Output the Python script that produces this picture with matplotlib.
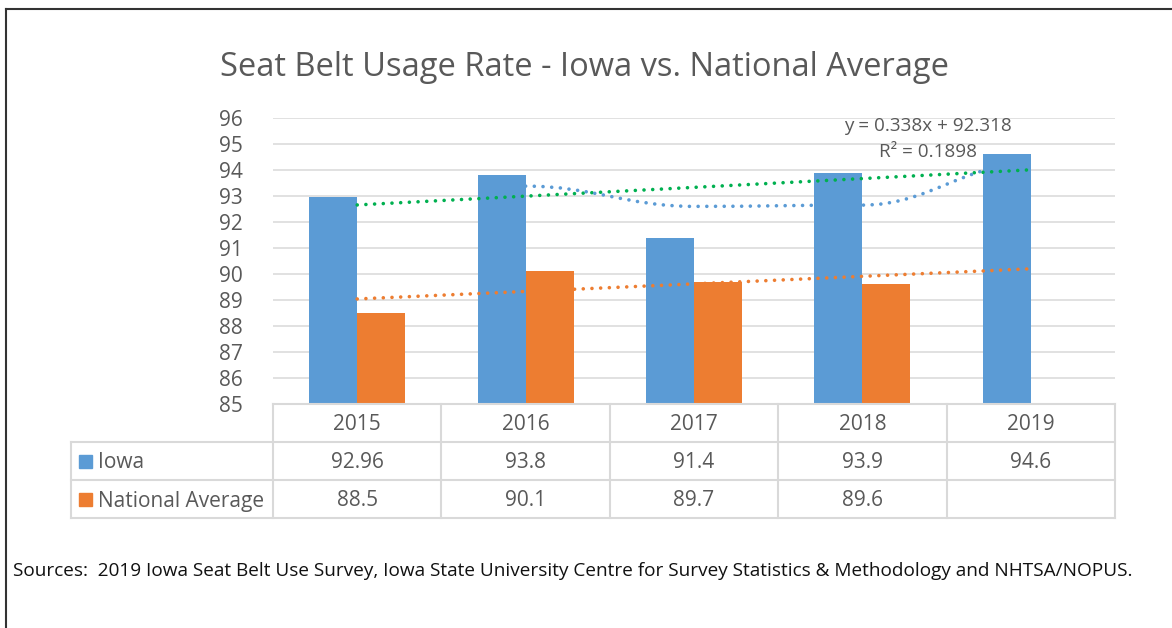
import matplotlib
matplotlib.use('agg')
import matplotlib.pyplot as plt
from matplotlib import transforms
from matplotlib.lines import Line2D
from matplotlib.patches import Rectangle, PathPatch
from matplotlib.path import Path
import numpy as np

# data
years = ['2015', '2016', '2017', '2018', '2019']
iowa = [92.96, 93.8, 91.4, 93.9, 94.6]
national = [88.5, 90.1, 89.7, 89.6, np.nan]
iowa_label = 'Iowa'
national_label = 'National Average'
yticks = list(range(85, 97))
title = 'Seat Belt Usage Rate - Iowa vs. National Average'
source = ('Sources:  2019 Iowa Seat Belt Use Survey, Iowa State University Centre for '
          'Survey Statistics & Methodology and NHTSA/NOPUS.')

blue = '#5B9BD5'
orange = '#ED7D31'
green = '#00B050'
txt = '#595959'
grid = '#D9D9D9'

plt.rcParams['font.family'] = ['Open Sans', 'DejaVu Sans']

W, H = 1172, 628
fig = plt.figure(figsize=(W / 100, H / 100), dpi=100)

def fx(px):
    return px / W

def fy(py):
    return 1 - py / H

ax = fig.add_axes([fx(273), fy(404), fx(1115) - fx(273), fy(118) - fy(404)])
x = np.arange(len(years))
bw = 0.285
iowa_a = np.array(iowa)
nat_a = np.array(national)
ax.bar(x - bw / 2, iowa_a, bw, color=blue, zorder=2)
ok = ~np.isnan(nat_a)
ax.bar(x[ok] + bw / 2, nat_a[ok], bw, color=orange, zorder=2)

ax.set_xlim(-0.5, len(years) - 0.5)
ax.set_ylim(85, 96)
ax.set_yticks(yticks)
ax.set_xticks([])
ax.tick_params(axis='y', length=0, pad=22, labelsize=15, labelcolor=txt)
for s in ax.spines.values():
    s.set_visible(False)
ax.grid(axis='y', color=grid, lw=1.1, zorder=0)
ax.set_axisbelow(True)

dash = (0, (0.01, 2.4))
dots = dict(lw=2.6, linestyle=dash, dash_capstyle='round', zorder=4)

# linear trend, Iowa
xn = x + 1
k, b = np.polyfit(xn, iowa_a, 1)
ax.plot(x, k * xn + b, color=green, **dots)
pred = k * xn + b
r2 = 1 - np.sum((iowa_a - pred) ** 2) / np.sum((iowa_a - iowa_a.mean()) ** 2)

# linear trend, national (fit on known years, drawn across all)
k2, b2 = np.polyfit(xn[ok], nat_a[ok], 1)
ax.plot(x, k2 * xn + b2, color=orange, **dots)

# 2 period moving average, Iowa, smoothed
ma = (iowa_a[1:] + iowa_a[:-1]) / 2
mx = x[1:]
verts = [(mx[0], ma[0])]
codes = [Path.MOVETO]
for i in range(1, len(ma)):
    x0, y0, x1, y1 = mx[i - 1], ma[i - 1], mx[i], ma[i]
    verts += [(x0 + 0.4 * (x1 - x0), y0), (x1 - 0.4 * (x1 - x0), y1), (x1, y1)]
    codes += [Path.CURVE4] * 3
ax.add_patch(PathPatch(Path(verts, codes), fill=False, edgecolor=blue, lw=2.6,
                       linestyle=dash, capstyle='round', zorder=4))

fig.text(fx(928), fy(126), f'y = {k:.3f}x + {b:.3f}', ha='center', va='center',
         fontsize=13.6, color=txt)
fig.text(fx(928), fy(152), f'R² = {r2:.4f}', ha='center', va='center',
         fontsize=13.6, color=txt)

fig.text(fx(584), fy(67), title, ha='center', va='center', fontsize=23.5, color=txt)

# data table under the axis
tr = transforms.blended_transform_factory(ax.transData, fig.transFigure)
rows_y = [404, 442, 480, 518]
left_px = 71
lc = dict(color=grid, lw=1.5)
# horizontal lines
fig.add_artist(Line2D([fx(273), fx(1115)], [fy(404), fy(404)], **lc))
for py in rows_y[1:]:
    fig.add_artist(Line2D([fx(left_px), fx(1115)], [fy(py), fy(py)], **lc))
# vertical lines
for xe in np.arange(len(years) + 1) - 0.5:
    fig.add_artist(Line2D([xe, xe], [fy(404), fy(518)], transform=tr, **lc))
fig.add_artist(Line2D([fx(left_px), fx(left_px)], [fy(442), fy(518)], **lc))

fs = 15
for i, yr in enumerate(years):
    fig.text(x[i], fy(425), yr, transform=tr, ha='center', va='center', fontsize=fs, color=txt)
    fig.text(x[i], fy(463), f'{iowa[i]:g}', transform=tr, ha='center', va='center',
             fontsize=fs, color=txt)
    if not np.isnan(national[i]):
        fig.text(x[i], fy(501), f'{national[i]:g}', transform=tr, ha='center', va='center',
                 fontsize=fs, color=txt)

for cy, lab, col in [(461, iowa_label, blue), (499, national_label, orange)]:
    fig.add_artist(Rectangle((fx(79), fy(cy + 6.5)), fx(13), 13 / H, color=col))
    fig.text(fx(98), fy(cy + 2), lab, ha='left', va='center', fontsize=fs, color=txt)

fig.text(fx(13), fy(571), source, ha='left', va='center', fontsize=13.7, color='#111111')

# outer border
fig.add_artist(Line2D([fx(6), 1], [fy(9), fy(9)], color='#333333', lw=1.5))
fig.add_artist(Line2D([fx(6), fx(6)], [fy(9), 0], color='#333333', lw=1.5))

fig.savefig('out.png', dpi=100, facecolor='white')
